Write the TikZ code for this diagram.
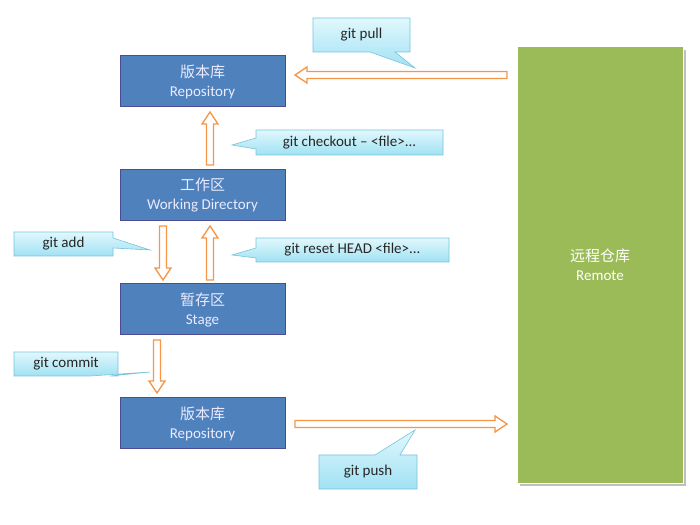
\documentclass[tikz,border=0pt]{standalone}
\usepackage{fontspec}
\setmainfont{Carlito}
\newfontfamily\cjk{Noto Sans CJK SC}
\begin{document}
\begin{tikzpicture}[x=1pt,y=1pt,
  box/.style={draw=blue!40!black!70, line width=1pt, fill=blue!45!cyan!40!black!50!white, fill={rgb,255:red,79;green,129;blue,189}, minimum width=165pt, minimum height=51pt, text=blue!8, align=center, font=\fontsize{15}{19}\selectfont},
  arr/.style={draw={rgb,255:red,247;green,150;blue,70}, line width=1.3pt, fill=white},
  call/.style={draw={rgb,255:red,120;green,195;blue,220}, line width=0.6pt, top color={rgb,255:red,225;green,248;blue,253}, bottom color={rgb,255:red,160;green,225;blue,243}},
  lab/.style={font=\fontsize{15}{18}\selectfont, text=black!85}]
\useasboundingbox (0,0) rectangle (700,524);
\newcommand\hollowarrow[3]{\draw[arr, shift={#1}, rotate=#3] (0,-3.5) -- (#2-12,-3.5) -- (#2-12,-8) -- (#2,0) -- (#2-12,8) -- (#2-12,3.5) -- (0,3.5) -- cycle;}
% remote
\fill[black!25] (520,38) rectangle (686,474);
\node[draw=white, line width=1pt, fill={rgb,255:red,155;green,187;blue,89}, minimum width=166pt, minimum height=436pt, inner sep=0pt, text=white, align=center, font=\fontsize{15}{19}\selectfont] (remote) at (600,259) {{\cjk 远程仓库}\\Remote};
% boxes
\node[box] (repo1) at (202.5,442.5) {{\cjk 版本库}\\Repository};
\node[box] (work) at (202.5,328.5) {{\cjk 工作区}\\Working Directory};
\node[box] (stage) at (202.5,214.5) {{\cjk 暂存区}\\Stage};
\node[box] (repo2) at (202.5,100.5) {{\cjk 版本库}\\Repository};
% arrows
\hollowarrow{(507,449)}{212}{180}
\hollowarrow{(210,359)}{53}{90}
\hollowarrow{(163,298)}{54}{-90}
\hollowarrow{(210,244)}{54}{90}
\hollowarrow{(157,184)}{53}{-90}
\hollowarrow{(295,100)}{212}{0}
% callouts
\draw[call] (313,506) -- (410,506) -- (410,472) -- (395,472) -- (415,456) -- (370,472) -- (313,472) -- cycle;
\node[lab] (pull) at (361.5,489) {git pull};
\draw[call] (256,394) -- (443,394) -- (443,369) -- (256,369) -- (256,375) -- (232,379) -- (256,386) -- cycle;
\node[lab] (co) at (349.5,381.5) {git checkout -- <file>...};
\draw[call] (14,292) -- (113,292) -- (113,286) -- (150,274) -- (113,276) -- (113,268) -- (14,268) -- cycle;
\node[lab] (add) at (63.5,280) {git add};
\draw[call] (256,286) -- (449,286) -- (449,262) -- (256,262) -- (256,266) -- (232,269) -- (256,276) -- cycle;
\node[lab] (reset) at (352.5,274) {git reset HEAD <file>...};
\draw[call] (14,172) -- (118,172) -- (118,148) -- (110,148) -- (150,152) -- (90,148) -- (14,148) -- cycle;
\node[lab] (commit) at (66,160) {git commit};
\draw[call] (319,69) -- (375,69) -- (415,94) -- (400,69) -- (417,69) -- (417,35) -- (319,35) -- cycle;
\node[lab] (push) at (368,52) {git push};
\end{tikzpicture}
\end{document}
